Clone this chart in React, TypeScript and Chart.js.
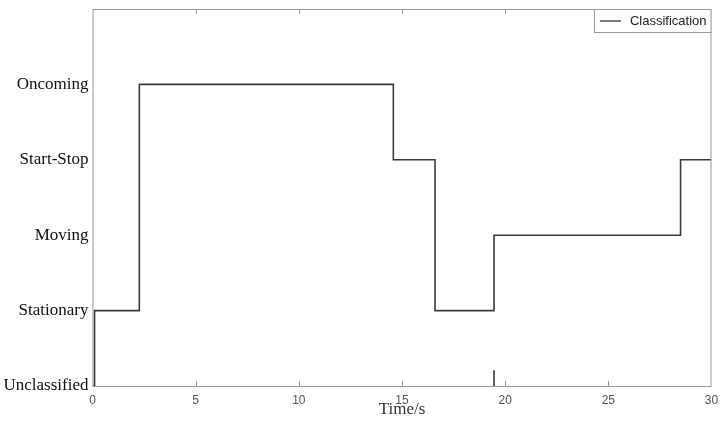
import React, { useEffect, useRef } from "react";
import { Chart, registerables } from "chart.js";

Chart.register(...registerables);

const classLabels = ["Unclassified", "Stationary", "Moving", "Start-Stop", "Oncoming", ""];
const changeTimes = [0, 0.1, 2.27, 14.58, 16.6, 19.46, 28.5, 30];
const classValues = [0, 1, 4, 3, 1, 2, 3, 3];
const glitchTimes = [19.46, 19.46];
const glitchValues = [0, 0.21];
const xTickValues = [0, 5, 10, 15, 20, 25, 30];

const boxPlugin = {
  id: "boxPlugin",
  afterDatasetsDraw(chart: any) {
    const { ctx, chartArea } = chart;
    const { left, right, top, bottom } = chartArea;
    const xs = chart.scales.x;
    ctx.save();
    ctx.strokeStyle = "#9a9a9a";
    ctx.lineWidth = 1;
    ctx.strokeRect(left + 0.5, top + 0.5, right - left - 1, bottom - top);
    ctx.beginPath();
    xTickValues.forEach((v) => {
      const px = Math.round(xs.getPixelForValue(v)) + 0.5;
      if (v === 0 || v === 30) return;
      ctx.moveTo(px, bottom);
      ctx.lineTo(px, bottom - 5);
      ctx.moveTo(px, top);
      ctx.lineTo(px, top + 5);
    });
    ctx.stroke();
    const label = chart.data.datasets[0].label;
    ctx.font = "13px 'Liberation Sans', Arial, sans-serif";
    const tw = ctx.measureText(label).width;
    const lw = tw + 41;
    const lx = right - lw;
    const ly = top;
    const lh = 23;
    ctx.fillStyle = "#ffffff";
    ctx.fillRect(lx, ly, lw, lh);
    ctx.strokeStyle = "#9a9a9a";
    ctx.strokeRect(lx + 0.5, ly + 0.5, lw - 1, lh);
    ctx.strokeStyle = "#333333";
    ctx.lineWidth = 1.3;
    ctx.beginPath();
    ctx.moveTo(lx + 6, ly + lh / 2 + 0.5);
    ctx.lineTo(lx + 27, ly + lh / 2 + 0.5);
    ctx.stroke();
    ctx.fillStyle = "#222222";
    ctx.textBaseline = "middle";
    ctx.textAlign = "left";
    ctx.fillText(label, lx + 36, ly + lh / 2 + 1);
    ctx.restore();
  },
};

export default function App() {
  const ref = useRef<HTMLCanvasElement | null>(null);
  useEffect(() => {
    document.body.style.margin = "0";
    const canvas = ref.current;
    if (!canvas) return;
    const chart = new Chart(canvas, {
      type: "line",
      data: {
        datasets: [
          {
            label: "Classification",
            data: changeTimes.map((t, i) => ({ x: t, y: classValues[i] })),
            stepped: "before",
            borderColor: "#3a3a3a",
            borderWidth: 1.6,
            pointRadius: 0,
            fill: false,
          },
          {
            label: "glitch",
            data: glitchTimes.map((t, i) => ({ x: t, y: glitchValues[i] })),
            borderColor: "#3a3a3a",
            borderWidth: 1.6,
            pointRadius: 0,
            fill: false,
          },
        ],
      },
      options: {
        animation: false,
        responsive: false,
        devicePixelRatio: 1,
        layout: { padding: { left: 0, top: 9, right: 13.5, bottom: 0 } },
        plugins: { legend: { display: false }, tooltip: { enabled: false } },
        scales: {
          x: {
            type: "linear",
            min: 0,
            max: 30,
            afterBuildTicks: (scale: any) => {
              scale.ticks = xTickValues.map((v) => ({ value: v }));
            },
            afterFit: (scale: any) => {
              scale.height = 37;
              scale.paddingLeft = 0;
              scale.paddingRight = 0;
            },
            grid: { display: false, drawTicks: false },
            border: { display: false },
            ticks: {
              padding: 7,
              color: "#555555",
              font: { family: "'Liberation Sans', Arial, sans-serif", size: 12 },
              maxRotation: 0,
            },
            title: {
              display: true,
              text: "Time/s",
              color: "#333333",
              font: { family: "'Liberation Serif', 'Times New Roman', serif", size: 17 },
              padding: { top: 0, bottom: 3 },
            },
          },
          y: {
            type: "linear",
            min: 0,
            max: 5,
            afterBuildTicks: (scale: any) => {
              scale.ticks = classLabels.map((_, i) => ({ value: i }));
            },
            afterFit: (scale: any) => {
              scale.width = 92.5;
              scale.paddingTop = 0;
              scale.paddingBottom = 0;
            },
            grid: { display: false, drawTicks: false },
            border: { display: false },
            ticks: {
              padding: 4,
              color: "#111111",
              font: { family: "'Liberation Serif', 'Times New Roman', serif", size: 17 },
              callback: (v: any) => classLabels[Number(v)] ?? "",
            },
          },
        },
      },
      plugins: [boxPlugin],
    });
    return () => chart.destroy();
  }, []);
  return (
    <div style={{ width: 725, height: 423, background: "#fff" }}>
      <canvas ref={ref} width={725} height={423} style={{ display: "block" }} />
    </div>
  );
}
